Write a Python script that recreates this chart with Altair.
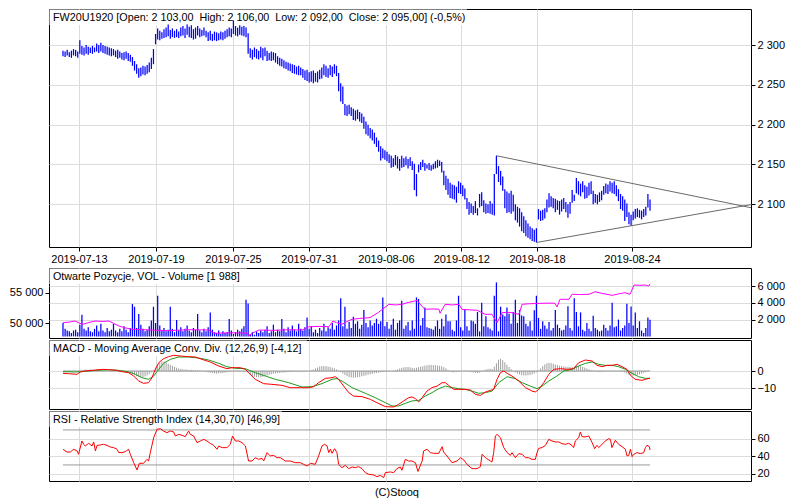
import altair as alt
import pandas as pd

FONT = "Liberation Sans"
BLUE = "#0000ff"

# ---------------- data ----------------
date_labels = ["2019-07-13", "2019-07-19", "2019-07-25", "2019-07-31",
               "2019-08-06", "2019-08-12", "2019-08-18", "2019-08-24"]
date_pos = [7.6, 44.2, 80.8, 116.9, 153.5, 189.3, 225.3, 270.4]

high = [2293,2292,2294,2291,2293,2295,2294,2292,2306,2299, 2297,2300,2298,2297,2299,2297,2302,2300,2303,2300,
        2299,2298,2297,2296,2295,2293,2294,2292,2290,2291, 2292,2290,2288,2285,2280,2276,2271,2272,2274,2273,
        2275,2278,2284,2295,2314,2321,2318,2316,2320,2322, 2326,2319,2321,2318,2320,2317,2322,2324,2321,2326,
        2323,2325,2320,2322,2324,2321,2319,2322,2318,2316, 2318,2314,2317,2316,2315,2317,2316,2318,2320,2322,
        2321,2331,2324,2322,2325,2323,2324,2322,2315,2296, 2294,2297,2295,2293,2298,2296,2297,2293,2290,2292,
        2291,2290,2286,2284,2283,2281,2279,2278,2277,2276, 2275,2273,2274,2272,2270,2268,2269,2266,2267,2268,
        2265,2267,2269,2272,2276,2274,2271,2275,2273,2276, 2274,2265,2252,2248,2226,2224,2225,2222,2220,2218,
        2219,2216,2214,2210,2204,2200,2196,2194,2190,2184, 2180,2173,2170,2168,2166,2163,2161,2158,2162,2160,
        2157,2161,2158,2160,2157,2159,2154,2151,2138,2150, 2153,2156,2152,2150,2152,2149,2151,2154,2156,2155,
        2153,2142,2136,2132,2127,2125,2124,2122,2129,2127, 2124,2120,2108,2103,2101,2098,2104,2095,2113,2115,
        2105,2101,2100,2104,2101,2138,2161,2148,2142,2135, 2119,2116,2114,2117,2112,2100,2097,2095,2090,2085,
        2080,2076,2072,2070,2068,2070,2094,2092,2093,2095, 2106,2114,2110,2108,2107,2105,2104,2106,2108,2103,
        2100,2103,2118,2112,2133,2129,2126,2129,2124,2122, 2127,2129,2117,2113,2112,2115,2117,2123,2126,2125,
        2129,2127,2129,2124,2119,2113,2110,2106,2101,2090, 2087,2091,2094,2095,2093,2092,2094,2097,2113,2106]

low = [2286,2285,2287,2285,2284,2287,2286,2284,2289,2288, 2287,2289,2288,2290,2289,2291,2292,2290,2292,2290,
       2289,2288,2287,2286,2287,2285,2283,2284,2282,2281, 2283,2280,2279,2274,2268,2264,2259,2261,2263,2262,
       2264,2266,2270,2276,2301,2307,2306,2308,2309,2310, 2311,2308,2310,2309,2310,2309,2311,2312,2309,2313,
       2310,2309,2307,2308,2312,2310,2311,2312,2310,2305, 2306,2305,2306,2305,2306,2307,2306,2308,2310,2311,
       2310,2314,2312,2311,2313,2312,2311,2310,2289,2284, 2282,2285,2283,2282,2284,2281,2286,2280,2281,2280,
       2281,2278,2276,2274,2273,2271,2270,2268,2267,2265, 2264,2263,2262,2262,2259,2256,2255,2253,2254,2252,
       2254,2253,2257,2258,2262,2260,2259,2262,2260,2264, 2261,2242,2229,2226,2212,2211,2213,2211,2206,2205,
       2207,2204,2202,2195,2188,2186,2183,2180,2176,2172, 2166,2155,2158,2156,2154,2152,2146,2147,2149,2145,
       2142,2146,2147,2149,2145,2148,2143,2118,2110,2140, 2143,2147,2142,2145,2143,2142,2144,2145,2146,2148,
       2140,2124,2118,2112,2108,2107,2106,2102,2114,2113, 2110,2106,2094,2087,2089,2087,2089,2086,2096,2098,
       2090,2088,2089,2088,2087,2086,2138,2128,2124,2117, 2095,2089,2090,2088,2091,2080,2077,2072,2066,2064,
       2060,2058,2056,2054,2053,2052,2081,2079,2080,2082, 2090,2096,2097,2095,2090,2093,2087,2091,2094,2090,
       2083,2088,2102,2104,2114,2112,2110,2115,2107,2108, 2111,2113,2100,2102,2100,2103,2105,2112,2114,2113,
       2116,2114,2113,2110,2104,2094,2092,2079,2084,2075, 2073,2080,2082,2084,2083,2081,2084,2086,2096,2092]

volume = [1590,900,700,600,400,700,800,500,1400,2580, 900,700,1100,600,500,900,1300,600,1500,700,
          500,1000,600,800,1500,700,500,900,600,1200, 800,500,1000,3850,3530,1000,2660,1400,900,600,
          800,1200,1900,3530,1600,4840,1300,700,1000,600, 800,3530,900,500,1950,700,1100,600,900,1300,
          700,500,1000,800,2660,700,500,900,600,1100, 2860,800,500,400,700,300,600,400,500,2060,
          700,300,500,800,600,900,1200,4370,3930,300, 500,200,600,400,700,500,800,1200,400,600,
          1400,500,800,600,2060,900,500,1100,700,1300, 800,600,1500,900,700,1100,2260,900,1200,500,
          800,400,1000,700,1500,600,1100,900,1600,800, 1300,1900,4530,1200,3530,900,1700,1000,2340,1500,
          1800,900,1400,3140,1600,1100,1900,1300,1600,2100, 1500,1800,4640,1200,1700,900,1400,2100,800,1600,
          1900,4250,900,1300,1700,700,1900,900,4640,4450, 1300,2200,3450,1100,1000,900,800,1200,1900,900,
          2100,1200,2600,1800,1800,800,600,1900,4840,1100, 700,3140,1200,700,1900,1800,1500,2900,600,4000,
          1200,2400,1100,900,700,4840,6430,600,3530,2600, 2400,3450,2700,1500,2900,4370,1600,3140,2500,2400,
          1500,1200,1800,700,3100,4840,2200,900,1800,1300, 900,1700,700,1000,3140,1400,1000,700,800,1300,
          3600,1000,700,4530,2900,1200,2860,800,600,1600, 900,600,2460,1000,800,600,700,1400,1000,700,
          1300,4000,1100,1200,2000,700,1000,1300,3890,1600, 3570,1300,2860,1000,1800,700,400,1000,2260,1988]

oi_pos = [0,3,5.7,8,9.5,12,15.2,19,21.9,24, 26.6,29,32.8,38,42.3,50,60,69.4,71.8,80,
          87.5,88.4,90,93.2,100,108,113.6,116.9,122,126.4, 128.3,130,132.6,135,137.4,141,145.9,150,154.9,158,
          161.1,164,167.3,168.3,170,172,176,178.7,179.2,181.6, 185,188.2,189.6,193,196.8,200.6,203.9,206.3,208.7,211,
          213.4,216.7,218.2,222,227.7,231,233.8,234.8,236.2,240.5, 241.9,246,250,252.9,256,261,264,267.1,269.5,271.4,
          274,276.6,278.5,279]
oi_val = [50100,50200,50375,50000,49840,50100,50375,50300,50375,50000, 49560,49300,49020,48950,48900,48800,48950,48900,48370,48450,
          48370,47925,48400,48900,48850,48950,48900,49440,49500,49440, 50375,50100,49840,50300,50650,50800,50920,51800,53100,53000,
          53100,53400,53640,53760,53000,52290,52350,52290,51630,53100, 53000,53100,52290,52200,52130,51470,51470,50100,51730,51800,
          51730,51470,53100,53200,53270,53300,53270,52660,53920,53920, 54740,54700,54740,55160,54900,54570,54800,55000,54740,56260,
          56200,56260,56100,56470]

macd_pts = [(0,-1.35),(2.7,-1.55),(6.7,-1.93),(8.2,-0.58),(10.6,0),(15.4,0.57),(19.3,0.96),(21.7,0.77),(25.7,0.38),
            (27.2,-0.2),(31.2,-0.97),(33.6,-2.9),(36.0,-5.8),(38.3,-7.13),(40.7,-6.75),(42.3,-3.85),(43.9,0.96),
            (45.5,4.8),(47.8,7.13),(50.2,8.28),(52.6,9.05),(55.8,8.67),(59.7,8.28),(62.9,8.09),(66.1,6.74),(70.0,5.2),
            (74.0,2.89),(77.9,1.35),(80.3,1.92),(84.3,1.92),(86.7,0.96),(88.2,-0.97),(91.4,-4.82),(95.4,-7.33),
            (99.3,-7.71),(104.1,-8.29),(108.0,-9.64),(112.8,-9.64),(116.8,-9.64),(119.1,-9.06),(121.5,-6.75),
            (124.7,-4.24),(127.9,-3.86),(129.4,-3.28),(131.0,-4.82),(133.4,-8.68),(135.8,-12.5),(138.1,-14.5),
            (142.1,-14.8),(146.1,-16.4),(149.2,-18.3),(153.2,-20.6),(157.2,-20.8),(159.5,-19.3),(161.9,-17.3),
            (164.3,-15.4),(165.9,-15.0),(167.5,-16.0),(169.1,-17.9),(170.7,-15.4),(173.0,-11.6),(175.4,-9.6),
            (177.8,-8.7),(180.2,-6.75),(181.7,-6.75),(183.3,-8.3),(185.7,-10.6),(188.1,-10.6),(191.2,-10.6),
            (193.6,-11.0),(196.0,-13.5),(198.4,-14.1),(200.8,-12.1),(203.1,-11.2),(204.7,-10.6),(206.3,-4.8),
            (207.9,-0.97),(209.5,0),(211.1,-1.35),(213.4,-2.9),(216.6,-5.8),(219.8,-9.6),(222.9,-11.6),(224.5,-12.1),
            (226.1,-10.6),(228.5,-6.75),(230.9,-1.93),(233.2,0.96),(236.4,1.35),(239.6,0.96),(242.7,1.35),(245.1,4.8),
            (248.3,6.36),(251.5,5.78),(253.8,3.27),(256.2,2.5),(258.6,3.27),(260.9,3.27),(263.3,3.85),(265.7,2.5),
            (268.1,0.96),(269.7,-2.5),(272.0,-4.8),(275.2,-5.4),(276.8,-4.8),(279,-4.12)]

signal_pts = [(0,-0.39),(5.9,-0.58),(10.6,-0.2),(15.4,0.38),(21.7,0.77),(26.5,0.38),(31.2,-0.58),(34.4,-1.9),
              (37.5,-3.85),(40.7,-4.8),(43.1,-2.9),(45.5,0.96),(47.8,4.43),(51.0,6.74),(55.0,8.09),(59.7,8.09),
              (64.5,7.51),(69.2,6.36),(74.0,4.43),(77.9,2.5),(81.9,1.54),(86.7,1.35),(91.4,-0.97),(96.2,-2.9),
              (100.9,-4.8),(107.3,-6.75),(113.6,-9.25),(118.3,-9.06),(123.1,-7.3),(127.9,-4.8),(130.2,-4.4),
              (132.6,-5.8),(137.4,-9.6),(143.7,-12.9),(148.4,-15.4),(153.2,-18.3),(156.4,-20.2),(159.5,-20.2),
              (162.7,-18.7),(165.9,-17.3),(169.1,-16.96),(172.2,-14.45),(175.4,-12.5),(178.6,-10.2),(181.7,-8.7),
              (184.9,-9.6),(188.1,-10.2),(191.2,-10.6),(194.4,-11.6),(197.6,-12.9),(200.8,-12.5),(203.9,-11.6),
              (207.1,-6.75),(211.1,-3.3),(215.0,-4.4),(218.2,-6.75),(222.1,-8.7),(225.3,-10.2),(227.7,-8.7),
              (230.9,-5.8),(234.8,-2.9),(238.0,0),(241.9,0.96),(245.1,2.89),(248.3,4.43),(251.5,5.2),(254.6,3.85),
              (257.8,3.27),(260.9,3.27),(264.1,2.5),(267.3,0.96),(270.5,-1.35),(273.6,-3.3),(276.8,-4.24),(279,-4.24)]

hist = [0,0.2,-0.2,0.1,-0.1,0,-0.3,-0.2,0.2,
        0.5,0.8,0.9,0.6,1.0,0.7,0.5,0.6,0.8,0.4,0.3,0.5,0.2,0.1,
        0.1,0,-0.1,0,-0.2,-0.3,-0.4,
        -0.6,-0.9,-1.3,-1.8,-2.4,-3.0,-3.4,-3.6,-3.5,-3.2,-2.6,-1.8,-0.8,
        0.5,2.0,3.6,4.8,5.6,5.5,5.0,4.3,3.6,3.0,2.4,1.9,1.5,1.2,1.0,
        0.9,0.8,0.6,0.7,0.5,0.4,0.3,0.2,0.1,-0.2,
        -0.5,-0.8,-1.0,-1.2,-1.4,-1.5,-1.4,-1.3,-1.2,-1.0,-0.8,-0.5,
        -0.2,0.2,0.3,0.2,0.1,0,-0.2,-0.4,
        -1.2,-2.0,-2.8,-3.3,-3.6,-3.7,-3.6,-3.4,-3.0,-2.6,-2.2,-1.9,-1.6,-1.4,
        -1.2,-1.1,-1.0,-0.9,-0.8,-0.7,-0.6,-0.5,-0.4,-0.3,-0.3,-0.2,-0.2,-0.1,0,0.1,
        0.4,0.9,1.5,2.0,2.5,2.8,2.9,2.8,2.6,2.3,1.9,1.5,0.9,0.2,-0.6,
        -1.5,-2.3,-3.0,-3.5,-3.8,-3.9,-3.8,-3.6,-3.4,-3.1,-2.8,-2.5,-2.2,-1.9,-1.6,-1.3,-1.1,-0.9,-0.7,-0.5,-0.3,-0.2,-0.1,
        0,0.2,0.5,
        0.9,1.4,1.8,2.1,2.3,2.3,2.1,1.8,1.6,1.9,2.2,2.5,
        2.8,3.1,3.3,3.5,3.5,3.4,3.3,3.2,3.0,2.7,2.2,1.5,0.6,
        -0.3,-0.7,-0.8,-0.6,
        -0.3,-0.1,0,0.1,-0.1,-0.3,
        -0.6,-0.9,-1.1,-1.2,-1.0,-0.5,
        0.3,0.8,1.2,1.3,1.2,2.5,
        4.5,6.5,7.1,6.2,5.0,3.6,2.3,
        1.0,0.0,
        -0.8,-1.5,-2.0,-2.4,-2.6,-2.6,-2.5,-2.3,-2.0,-1.5,-0.8,0.2,
        1.5,2.8,3.8,4.5,4.8,4.6,4.2,3.8,3.4,3.0,
        2.8,2.6,2.5,2.4,2.3,2.2,2.5,2.8,3.0,2.8,2.5,2.0,1.5,1.0,
        0.6,0.3,0.1,-0.2,-0.4,-0.5,-0.3,
        -0.1,0,0.1,0.2,0.1,0,-0.1,-0.3,-0.5,
        -1.0,-1.6,-2.1,-2.5,-2.6,-2.5,-2.3,-2.0,-1.6,-1.1,-0.6,-0.2,0.1]

rsi_pos = [0,1.9,3.5,5.1,6.7,7.4,9.0,9.8,10.6,12.2, 13.8,14.6,15.4,16.2,17.7,19.3,20.9,22.5,24.1,25.7,
           26.5,28.0,29.6,31.2,32.0,33.6,35.2,36.3,38.3,39.9, 40.7,41.5,43.1,44.7,46.3,47.8,49.4,51.0,52.6,53.4,
           55.0,56.6,58.1,59.7,60.5,62.1,63.7,65.3,66.9,68.4, 70.0,71.6,73.2,74.0,75.6,77.9,79.5,80.6,81.9,83.5,
           85.1,86.7,88.2,89.8,91.4,93.0,94.6,95.4,97.0,98.5, 100.1,101.7,103.3,105.7,108.0,110.4,112.8,114.4,116.0,117.6,
           119.9,121.5,123.1,124.4,125.5,126.3,127.1,127.9,129.1,130.2, 131.0,132.6,134.2,135.8,137.4,138.9,140.5,142.1,143.7,145.3,
           147.7,149.2,150.8,152.4,153.2,155.6,157.2,158.7,160.3,161.1, 162.7,164.3,165.9,167.5,168.7,
           170.7,171.4,173.0,174.6,176.2,178.6,180.2,180.9,182.5,184.9, 187.3,188.9,190.5,192.0,194.4,196.8,198.4,199.2,200.8,201.5,
           203.1,203.9,204.7,205.5,206.3,207.9,209.5,211.1,212.6,213.4, 215.0,216.6,218.2,219.8,221.3,222.9,224.5,225.3,226.1,227.7,
           229.3,230.9,232.4,234.0,235.6,237.2,238.8,240.4,241.9,242.7, 243.5,245.1,245.9,246.7,248.3,249.9,251.5,252.7,253.8,254.6,
           256.2,257.8,259.4,260.2,260.9,262.5,264.1,265.7,267.3,268.1, 268.9,269.7,270.5,271.3,272.8,274.4,276.0,276.8,277.6,278.7,
           279]
rsi_val = [47.9,44.8,44.8,47.9,46.0,42.2,57.4,53.6,51.7,54.7, 51.7,56.3,46.0,52.4,52.8,53.6,52.4,50.5,49.8,47.9,
           44.1,44.1,45.2,47.9,42.2,32.6,24.2,31.9,31.9,36.4, 34.5,44.1,61.2,70.7,71.5,68.8,66.9,68.8,67.7,63.1,
           65.0,63.9,62.3,68.8,65.0,63.1,55.5,57.4,59.3,57.4, 54.7,52.4,47.9,51.7,49.8,49.8,53.6,63.1,57.4,57.4,
           55.5,51.7,34.5,34.5,38.3,36.4,37.6,34.5,44.1,40.3, 41.0,38.3,38.3,34.5,34.5,32.6,32.6,30.7,28.8,31.9,
           30.7,40.3,51.7,53.6,51.7,44.1,47.9,43.3,48.6,44.1, 30.7,26.9,29.6,25.8,27.7,26.9,28.1,25.8,21.2,19.3,
           18.5,16.6,18.1,15.5,21.2,22.0,21.2,25.8,27.7,23.9, 36.4,34.5,34.5,32.6,22.5,
           34.5,46.0,47.9,44.1,43.3,43.3,50.9,44.8,40.3,32.6, 34.5,38.3,35.7,30.7,25.8,25.8,28.1,42.2,38.3,37.2,
           34.5,33.4,44.1,63.1,65.0,61.2,49.8,44.1,41.0,44.1, 38.3,42.9,42.2,38.3,38.3,36.4,36.4,44.1,49.0,49.8,
           52.4,59.3,57.4,56.3,56.3,54.3,53.6,54.7,52.4,49.8, 57.4,61.2,67.7,62.3,62.0,63.1,55.5,48.6,52.4,49.8,
           53.6,57.4,60.1,59.3,49.8,58.2,53.6,50.9,47.9,40.3, 41.0,47.9,39.5,42.2,44.1,42.9,44.1,49.8,52.4,50.9,
           47.0]

# triangle (trend lines): start point and end point at right edge
trend_x = [206, 225]
trend_y = [2161, 2052]
trend_x2 = [327, 327]
trend_y2 = [2095.7, 2099.6]

rsi_levels = [30, 70]

main_label = "FW20U1920 [Open: 2 103,00\u00a0 High: 2 106,00\u00a0 Low: 2 092,00\u00a0 Close: 2 095,00] (-0,5%)"
vol_label = "Otwarte Pozycje, VOL - Volume [1 988]"
macd_label = "MACD - Moving Average Conv. Div. (12,26,9) [-4,12]"
rsi_label = "RSI - Relative Strength Index (14,30,70) [46,99]"

# ---------------- frames ----------------
N = len(high)
bars_i = list(range(N))
first_i, last_i = 0, N - 1
price_df = pd.DataFrame({"i": bars_i, "high": high, "low": low})
vol_df = pd.DataFrame({"i": list(range(len(volume))), "vol": volume})
oi_df = pd.DataFrame({"i": oi_pos, "oi": oi_val})
macd_df = pd.DataFrame({"i": [p[0] for p in macd_pts], "v": [p[1] for p in macd_pts]})
sig_df = pd.DataFrame({"i": [p[0] for p in signal_pts], "v": [p[1] for p in signal_pts]})
hist_df = pd.DataFrame({"i": list(range(len(hist))), "h": hist})
rsi_df = pd.DataFrame({"i": rsi_pos, "r": rsi_val})
trend_df = pd.DataFrame({"x": trend_x, "y": trend_y, "x2": trend_x2, "y2": trend_y2})
lvl_df = pd.DataFrame({"x": [first_i] * len(rsi_levels), "x2": [last_i] * len(rsi_levels), "y": rsi_levels})
zero_df = pd.DataFrame({"x": [first_i], "x2": [last_i], "y": [0]})
one = pd.DataFrame({"k": [0]})

# ---------------- scales / axes ----------------
xs = alt.Scale(domain=[-6.65, 327.0], nice=False, zero=False)

mids = [(date_pos[k] + date_pos[k + 1]) / 2 for k in range(len(date_pos) - 1)]
label_expr = ""
for k, lab in enumerate(date_labels[:-1]):
    label_expr += f"datum.value < {mids[k]} ? '{lab}' : "
label_expr += f"'{date_labels[-1]}'"

x_axis_main = alt.Axis(values=date_pos, labelExpr=label_expr, grid=True, ticks=True, labels=True,
                       domain=False, title=None, tickSize=4, labelPadding=2, labelOverlap=False,
                       labelFlush=False, minExtent=19, maxExtent=19)
x_axis_sub = alt.Axis(values=date_pos, grid=True, ticks=False, labels=False, domain=False,
                      title=None, minExtent=0, maxExtent=0)

SPACE_FMT = "replace(format(datum.value, ','), ',', ' ')"


def y_axis(values, orient="right", grid=True, expr=SPACE_FMT):
    return alt.Axis(values=values, orient=orient, grid=grid, title=None, domain=False, ticks=True,
                    tickSize=4, labelPadding=2, labelExpr=expr, labelOverlap=False, labelFlush=False)


ys_main = alt.Scale(domain=[2046.35, 2345.35], nice=False, zero=False)
ys_vol = alt.Scale(domain=[-190, 8143], nice=False, zero=False)
ys_oi = alt.Scale(domain=[47598, 59036], nice=False, zero=False)
ys_macd = alt.Scale(domain=[-21.96, 17.92], nice=False, zero=False)
ys_rsi = alt.Scale(domain=[11.66, 91.66], nice=False, zero=False)

ax_main = y_axis([2100, 2150, 2200, 2250, 2300])
ax_vol = y_axis([2000, 4000, 6000])
ax_oi = y_axis([50000, 55000], orient="left", grid=False)
ax_macd = y_axis([-10, 0], expr="format(datum.value, 'd')")
ax_rsi = y_axis([20, 40, 60], expr="format(datum.value, 'd')")


def label_layers(text, box_w):
    box = alt.Chart(one).mark_rect(color="white").encode(
        x=alt.value(0.5), x2=alt.value(box_w), y=alt.value(0.5), y2=alt.value(16))
    txt = alt.Chart(one).mark_text(align="left", baseline="alphabetic", font=FONT, fontSize=10.75,
                                   color="black").encode(x=alt.value(4), y=alt.value(12), text=alt.value(text))
    return box, txt


# ---------------- main panel ----------------
b1, t1 = label_layers(main_label, 418)
ohlc = alt.Chart(price_df).mark_rule(color=BLUE, strokeWidth=1.25).encode(
    x=alt.X("i:Q", scale=xs, axis=x_axis_main),
    y=alt.Y("low:Q", scale=ys_main, axis=ax_main),
    y2="high:Q")
trend = alt.Chart(trend_df).mark_rule(color="#6a6a6a", strokeWidth=1).encode(
    x=alt.X("x:Q", scale=xs, axis=x_axis_main), x2="x2:Q",
    y=alt.Y("y:Q", scale=ys_main, axis=ax_main), y2="y2:Q")
main = alt.layer(b1, ohlc, trend, t1).properties(width=702, height=238)

# ---------------- volume / open interest ----------------
b2, t2 = label_layers(vol_label, 198)
vbars = alt.Chart(vol_df).mark_rule(color=BLUE, strokeWidth=1.25).encode(
    x=alt.X("i:Q", scale=xs, axis=x_axis_sub),
    y=alt.Y("vol:Q", scale=ys_vol, axis=ax_vol),
    y2=alt.datum(0))
oi_line = alt.Chart(oi_df).mark_line(color="#ff00ff", strokeWidth=1).encode(
    x=alt.X("i:Q", scale=xs, axis=x_axis_sub),
    y=alt.Y("oi:Q", scale=ys_oi, axis=ax_oi))
vol_panel = alt.layer(b2, vbars, oi_line, t2).resolve_scale(y="independent").properties(width=702, height=70)

# ---------------- MACD ----------------
b3, t3 = label_layers(macd_label, 258)
zero_line = alt.Chart(zero_df).mark_rule(color="#999999", strokeWidth=1).encode(
    x=alt.X("x:Q", scale=xs, axis=x_axis_sub), x2="x2:Q",
    y=alt.Y("y:Q", scale=ys_macd, axis=ax_macd))
hbars = alt.Chart(hist_df).mark_rule(color="#a0a0a0", strokeWidth=1).encode(
    x=alt.X("i:Q", scale=xs, axis=x_axis_sub),
    y=alt.Y("h:Q", scale=ys_macd, axis=ax_macd), y2=alt.datum(0))
sig_line = alt.Chart(sig_df).mark_line(color="#1f9a1f", strokeWidth=1).encode(
    x=alt.X("i:Q", scale=xs, axis=x_axis_sub),
    y=alt.Y("v:Q", scale=ys_macd, axis=ax_macd))
macd_line = alt.Chart(macd_df).mark_line(color="#ff0000", strokeWidth=1).encode(
    x=alt.X("i:Q", scale=xs, axis=x_axis_sub),
    y=alt.Y("v:Q", scale=ys_macd, axis=ax_macd))
macd_panel = alt.layer(b3, zero_line, hbars, sig_line, macd_line, t3).properties(width=702, height=69)

# ---------------- RSI ----------------
b4, t4 = label_layers(rsi_label, 233)
lvl = alt.Chart(lvl_df).mark_rule(color="#999999", strokeWidth=1).encode(
    x=alt.X("x:Q", scale=xs, axis=x_axis_sub), x2="x2:Q",
    y=alt.Y("y:Q", scale=ys_rsi, axis=ax_rsi))
rsi_line = alt.Chart(rsi_df).mark_line(color="#ff0000", strokeWidth=1).encode(
    x=alt.X("i:Q", scale=xs, axis=x_axis_sub),
    y=alt.Y("r:Q", scale=ys_rsi, axis=ax_rsi))
rsi_panel = alt.layer(b4, lvl, rsi_line, t4).properties(width=702, height=70)

chart = alt.vconcat(main, vol_panel, macd_panel, rsi_panel, spacing=0).properties(
    padding=0,
    background="white",
    title=alt.TitleParams("(C)Stooq", orient="bottom", anchor="middle", font=FONT, fontSize=11,
                          fontWeight="normal", color="black", offset=5),
).configure_view(stroke="black", strokeWidth=1).configure_axis(
    labelFont=FONT, labelFontSize=11, labelColor="black", tickColor="black", tickWidth=1,
    gridColor="#dcdcdc", gridWidth=1, domain=False)

chart.save("out.html", embed_options={"renderer": "svg", "actions": False})
